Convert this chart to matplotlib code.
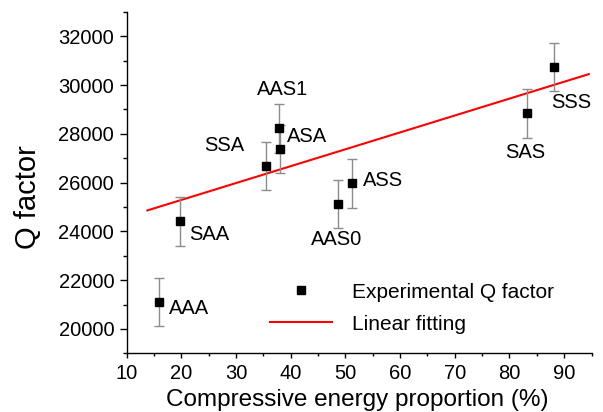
"""Q factor versus compressive energy proportion, with a linear fit."""

import matplotlib

matplotlib.use("Agg")
import matplotlib.pyplot as plt
from matplotlib.ticker import MultipleLocator

plt.rcParams["font.family"] = ["Liberation Sans", "DejaVu Sans"]

# data
samples = ["AAA", "SAA", "SSA", "AAS1", "ASA", "AAS0", "ASS", "SAS", "SSS"]
energy_pct = [16.0, 19.7, 35.4, 37.8, 38.0, 48.7, 51.2, 83.2, 88.2]
q_factor = [21100, 24420, 26670, 28220, 27380, 25130, 25970, 28850, 30740]
q_err = [1000, 1000, 990, 1000, 990, 990, 1000, 1000, 990]
fit_x = [13.8, 94.5]
fit_y = [24860, 30450]

# label placement relative to each point, in pixels (right, up)
label_offsets = [(30, -6), (30, -13), (-41, 21), (4, 39), (27, 12),
                 (-2, -36), (31, 3), (-2, -39), (17, -35)]

fig = plt.figure(figsize=(6.03, 4.12), dpi=100)
ax = fig.add_axes([0.21, 0.1425, 0.771, 0.8285])

fit_line, = ax.plot(fit_x, fit_y, color="red", linewidth=1.5, zorder=2)
ax.errorbar(energy_pct, q_factor, yerr=q_err, fmt="none", ecolor="#8c8c8c",
            elinewidth=1.0, capsize=3.5, capthick=1.0, zorder=3)
pts, = ax.plot(energy_pct, q_factor, "s", color="black", markersize=6,
               linestyle="none", zorder=4)

for name, x, y, (dx, dy) in zip(samples, energy_pct, q_factor, label_offsets):
    ax.annotate(name, (x, y), xytext=(dx, dy), textcoords="offset pixels",
                ha="center", va="center", fontsize=14.5)

ax.set_xlim(10, 95)
ax.set_ylim(19000, 33000)
ax.xaxis.set_major_locator(MultipleLocator(10))
ax.xaxis.set_minor_locator(MultipleLocator(5))
ax.yaxis.set_major_locator(MultipleLocator(2000))
ax.yaxis.set_minor_locator(MultipleLocator(1000))
ax.tick_params(which="major", direction="out", width=1, labelsize=14.5)
ax.tick_params(which="minor", direction="out", width=1)
ax.tick_params(axis="y", which="major", length=5, pad=4)
ax.tick_params(axis="y", which="minor", length=2.7)
ax.tick_params(axis="x", which="major", length=3.5, pad=4.5)
ax.tick_params(axis="x", which="minor", length=2)
for side in ["top", "right"]:
    ax.spines[side].set_visible(False)
for side in ["left", "bottom"]:
    ax.spines[side].set_linewidth(1.0)

ax.set_xlabel("Compressive energy proportion (%)", fontsize=17.5, va="baseline")
ax.xaxis.set_label_coords(0.495, -0.1535)
ax.set_ylabel("Q factor", fontsize=21, va="baseline")
ax.yaxis.set_label_coords(-0.194, 0.4565)

fig.legend([pts, fit_line], ["Experimental Q factor", "Linear fitting"],
           loc="center", bbox_to_anchor=(0.683, 0.252), frameon=False,
           fontsize=15, handlelength=3.0, handletextpad=0.95, labelspacing=0.63,
           borderpad=0)

fig.savefig("out.png", dpi=100)
plt.close(fig)
